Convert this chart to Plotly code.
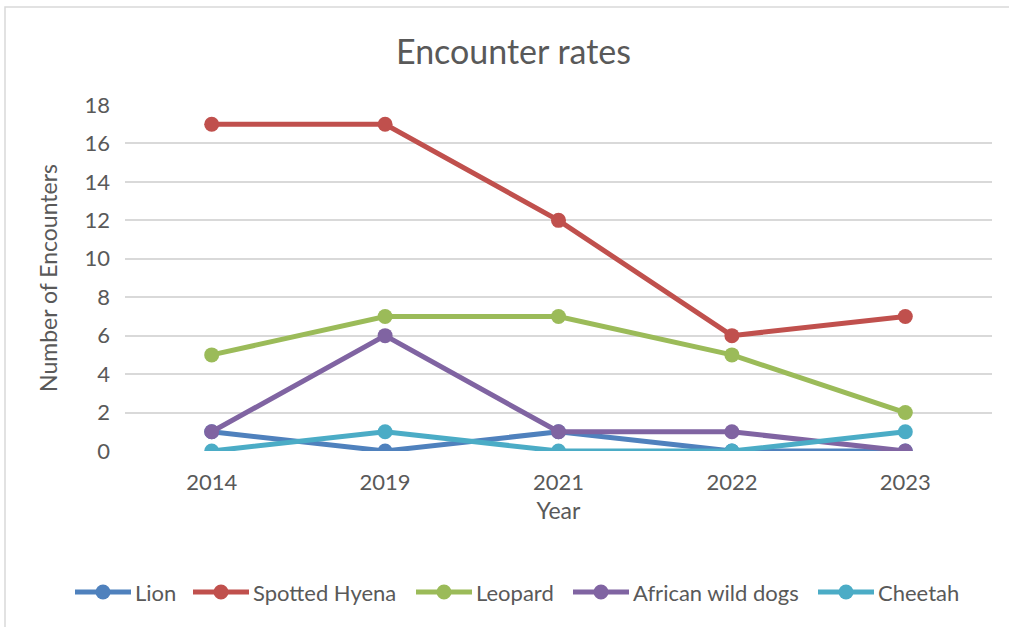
import plotly.graph_objects as go

years = ["2014", "2019", "2021", "2022", "2023"]
lion = [1, 0, 1, 0, 0]
spotted_hyena = [17, 17, 12, 6, 7]
leopard = [5, 7, 7, 5, 2]
african_wild_dogs = [1, 6, 1, 1, 0]
cheetah = [0, 1, 0, 0, 1]

series_names = ["Lion", "Spotted Hyena", "Leopard", "African wild dogs", "Cheetah"]
series_values = [lion, spotted_hyena, leopard, african_wild_dogs, cheetah]
series_colors = ["#4F81BD", "#C0504D", "#9BBB59", "#8064A2", "#4BACC6"]

FONT = "Lato, 'Open Sans', sans-serif"
TEXT = "#595959"

W, H = 1009, 627
L, R, T, B = 125, 17, 105, 176
pw, ph = W - L - R, H - T - B


def px_x(x):
    return (x - L) / pw


def px_y(y):
    return (H - B - y) / ph


fig = go.Figure()
for name, vals, color in zip(series_names, series_values, series_colors):
    fig.add_trace(go.Scatter(
        x=years, y=vals, name=name, mode="lines+markers",
        line=dict(color=color, width=5),
        marker=dict(color=color, size=15),
        showlegend=False,
    ))

fig.update_layout(
    width=W, height=H,
    margin=dict(l=L, r=R, t=T, b=B),
    paper_bgcolor="white", plot_bgcolor="white",
    font=dict(family=FONT, color=TEXT, size=22),
    title=dict(text="Encounter rates", x=513.5 / W, xref="container", xanchor="center",
               y=1 - 52 / H, yref="container", yanchor="middle",
               font=dict(size=34, color=TEXT, family=FONT)),
    xaxis=dict(type="category", range=[-0.5, 4.5], showgrid=False, zeroline=False,
               showline=False, ticks="", ticklabelstandoff=16,
               tickfont=dict(size=22, color=TEXT),
               title=dict(text="Year", font=dict(size=23, color=TEXT), standoff=8)),
    yaxis=dict(range=[0, 18], dtick=2, showgrid=True, gridcolor="#D9D9D9", gridwidth=1.5,
               zeroline=False, showline=False, ticks="", ticklabelstandoff=14,
               tickfont=dict(size=22, color=TEXT),
               title=dict(text="Number of Encounters", font=dict(size=23, color=TEXT), standoff=20)),
    showlegend=False,
)

# chart border (left and top edges fall inside the page)
fig.add_shape(type="rect", xref="paper", yref="paper",
              x0=px_x(5), x1=px_x(1015), y0=px_y(640), y1=px_y(7),
              line=dict(color="#D9D9D9", width=1.5), fillcolor="rgba(0,0,0,0)", layer="below")

# legend row below the plot: line key with a dot, then the series name
legend_y = 592
legend_starts = [75, 193, 416, 573, 818]
key_len = 56
for name, color, x0 in zip(series_names, series_colors, legend_starts):
    fig.add_shape(type="line", xref="paper", yref="paper",
                  x0=px_x(x0), x1=px_x(x0 + key_len), y0=px_y(legend_y), y1=px_y(legend_y),
                  line=dict(color=color, width=5))
    cx = x0 + key_len / 2
    fig.add_shape(type="circle", xref="paper", yref="paper",
                  xsizemode="pixel", ysizemode="pixel",
                  xanchor=px_x(cx), yanchor=px_y(legend_y),
                  x0=-7.5, x1=7.5, y0=-7.5, y1=7.5,
                  line=dict(color=color, width=0), fillcolor=color)
    fig.add_annotation(text=name, xref="paper", yref="paper",
                       x=px_x(x0 + key_len + 2), y=px_y(legend_y),
                       xanchor="left", yanchor="middle", showarrow=False,
                       font=dict(size=22, color=TEXT, family=FONT))

fig.write_html("out.html")
